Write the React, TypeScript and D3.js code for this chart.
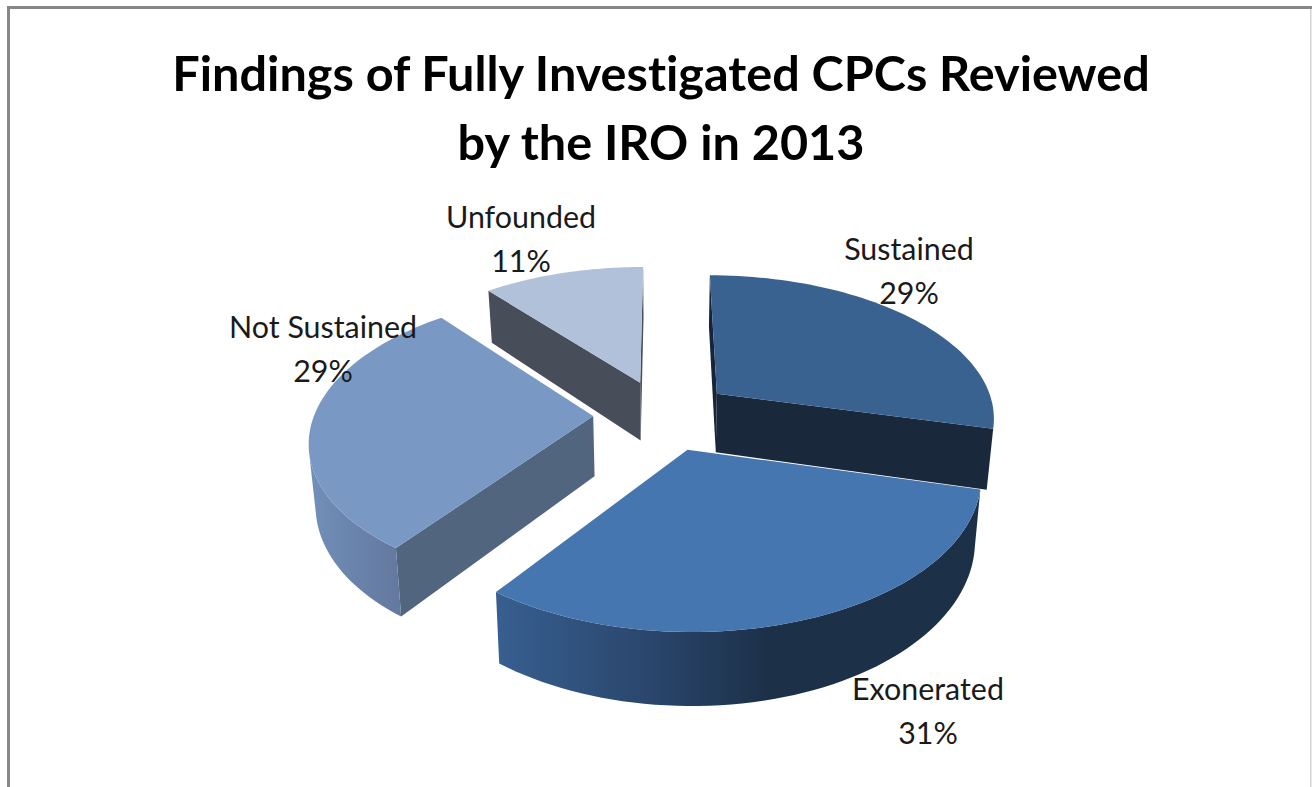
import React from 'react';
import * as d3 from 'd3';

const categories = ['Sustained', 'Exonerated', 'Not Sustained', 'Unfounded'];
const values = [29, 31, 29, 11];
const titleLines = ['Findings of Fully Investigated CPCs Reviewed', 'by the IRO in 2013'];

const topColors = ['#3a6291', '#4676b0', '#7a98c4', '#b2c1da'];
const startWallColors = ['#16253a', '#1c3048', '#51657f', '#484e59'];
const endWallColors = ['#1a283c', '#1c3048', '#51657f', '#484e59'];
const arcWallStops = [
  ['#1a283c', '#1a283c', '#1a283c'],
  ['#375f90', '#2a466c', '#1c3048'],
  ['#7190ba', '#6a83ab', '#64789f'],
  ['#484e59', '#484e59', '#484e59'],
];
// where the middle and last colour of each rim gradient sit
const arcWallOffsets = [
  [0.5, 1],
  [0.32, 0.56],
  [0.5, 1],
  [0.5, 1],
];
const drawOrder = [3, 0, 2, 1];

// label anchor per slice [x of centre, baseline of first line]
const labelPos: [number, number][] = [[909, 260], [928, 700], [323, 338], [521, 228]];

const WIDTH = 1312;
const HEIGHT = 787;

// perspective of the pie plane
const cx = 663;
const cy = 415;
const rx = 279;
const ry = 142.5;
const persp = 0.153;
const depth = 60;
const depthShrink = 0.02;
const explode = 0.25;

type Pt = [number, number];

const project = (u: number, v: number, z: number): Pt => {
  const s = 1 / (1 - persp * v);
  return [cx + (rx * u * s) / (1 + depthShrink * z), cy + (ry * v + depth * z) * s];
};

const line = d3.line<Pt>().curve(d3.curveLinear);
const polyPath = (pts: Pt[]) => line(pts) + 'Z';

const quadArea = (a: Pt, b: Pt, c: Pt, d: Pt) => {
  const p = [a, b, c, d];
  let sum = 0;
  p.forEach((q, i) => {
    const n = p[(i + 1) % 4];
    sum += q[0] * n[1] - n[0] * q[1];
  });
  return sum;
};

const arcs = d3.pie<number>().sort(null)(values);

const slices = arcs.map((arc, i) => {
  const mid = (arc.startAngle + arc.endAngle) / 2;
  const du = explode * Math.sin(mid);
  const dv = -explode * Math.cos(mid);
  const at = (a: number, r: number, z: number) =>
    project(du + r * Math.sin(a), dv - r * Math.cos(a), z);

  const angles = d3.range(0, 61).map(k => arc.startAngle + ((arc.endAngle - arc.startAngle) * k) / 60);
  const top: Pt[] = [at(0, 0, 0), ...angles.map(a => at(a, 1, 0))];

  // only the parts of the rim that face the viewer
  const visible: number[] = [];
  angles.forEach((a, k) => {
    if (k === 60) return;
    const b = angles[k + 1];
    if (quadArea(at(a, 1, 0), at(b, 1, 0), at(b, 1, 1), at(a, 1, 1)) < 0) visible.push(k);
  });
  let rim: Pt[] = [];
  if (visible.length) {
    const idx = [...visible, visible[visible.length - 1] + 1];
    rim = [...idx.map(k => at(angles[k], 1, 0)), ...idx.reverse().map(k => at(angles[k], 1, 1))];
  }

  const a0 = arc.startAngle;
  const a1 = arc.endAngle;
  const startWall: Pt[] = [at(0, 0, 0), at(a0, 1, 0), at(a0, 1, 1), at(0, 0, 1)];
  const endWall: Pt[] = [at(a1, 1, 0), at(0, 0, 0), at(0, 0, 1), at(a1, 1, 1)];
  const showStart = quadArea(startWall[0], startWall[1], startWall[2], startWall[3]) < 0;
  const showEnd = quadArea(endWall[0], endWall[1], endWall[2], endWall[3]) < 0;

  return { i, top, rim, startWall, endWall, showStart, showEnd };
});

export default function App() {
  const fontFamily = 'Lato, "Open Sans", sans-serif';
  return (
    <svg
      width={WIDTH}
      height={HEIGHT}
      style={{ position: 'absolute', left: 0, top: 0, background: '#fff', fontVariantLigatures: 'none' }}
    >
      <defs>
        {slices.map(s => {
          const xs = s.rim.map(p => p[0]);
          return (
            <linearGradient
              key={s.i}
              id={'rim' + s.i}
              gradientUnits="userSpaceOnUse"
              x1={d3.min(xs) ?? 0}
              x2={d3.max(xs) ?? 1}
              y1={0}
              y2={0}
            >
              <stop offset="0" stopColor={arcWallStops[s.i][0]} />
              <stop offset={arcWallOffsets[s.i][0]} stopColor={arcWallStops[s.i][1]} />
              <stop offset={arcWallOffsets[s.i][1]} stopColor={arcWallStops[s.i][2]} />
              <stop offset="1" stopColor={arcWallStops[s.i][2]} />
            </linearGradient>
          );
        })}
      </defs>

      {/* frame */}
      <rect x={7} y={6} width={1305} height={3} fill="#878787" />
      <rect x={7} y={6} width={3} height={781} fill="#878787" />
      <rect x={1310} y={9} width={1.5} height={778} fill="#d4d4d4" />

      {titleLines.map((t, i) => (
        <text
          key={t}
          x={661}
          y={91 + i * 69}
          textAnchor="middle"
          fontFamily={fontFamily}
          fontWeight={700}
          fontSize={48.6}
          fill="#000"
        >
          {t}
        </text>
      ))}

      {drawOrder.map(idx => {
        const s = slices[idx];
        return (
          <g key={categories[idx]}>
            {s.showStart && <path d={polyPath(s.startWall)} fill={startWallColors[idx]} />}
            {s.showEnd && <path d={polyPath(s.endWall)} fill={endWallColors[idx]} />}
            {s.rim.length > 0 && <path d={polyPath(s.rim)} fill={`url(#rim${idx})`} />}
            <path d={polyPath(s.top)} fill={topColors[idx]} />
          </g>
        );
      })}

      {categories.map((c, i) => (
        <g key={c} fontFamily={fontFamily} fontSize={30.4} fill="#1a1a1a" textAnchor="middle">
          <text x={labelPos[i][0]} y={labelPos[i][1]}>{c}</text>
          <text x={labelPos[i][0]} y={labelPos[i][1] + 44}>{values[i]}%</text>
        </g>
      ))}
    </svg>
  );
}
